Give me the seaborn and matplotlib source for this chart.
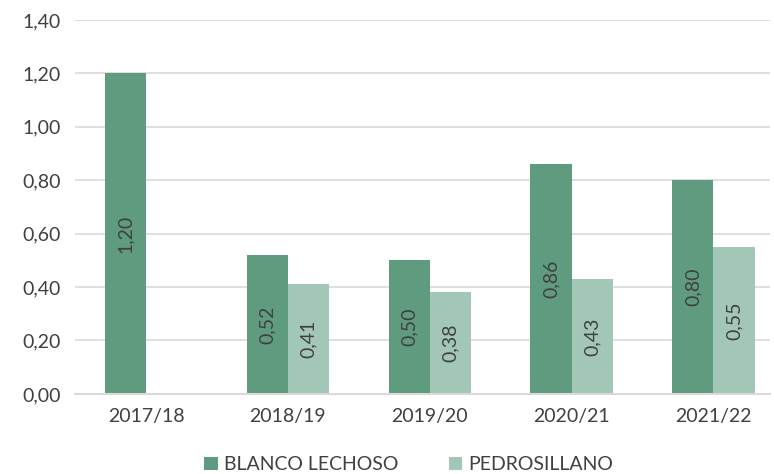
import numpy as np
import pandas as pd
import matplotlib.pyplot as plt
import seaborn as sns

campaigns = ["2017/18", "2018/19", "2019/20", "2020/21", "2021/22"]
blanco = [1.20, 0.52, 0.50, 0.86, 0.80]
pedro = [np.nan, 0.41, 0.38, 0.43, 0.55]
series = ["BLANCO LECHOSO", "PEDROSILLANO"]
colors = ["#5F9B7F", "#A3C7B6"]

df = pd.DataFrame({
    "campaign": campaigns * 2,
    "value": blanco + pedro,
    "variety": [series[0]] * 5 + [series[1]] * 5,
})

sns.set_style("white")
plt.rcParams["font.family"] = ["Lato", "DejaVu Sans"]
txt = "#404040"

fig = plt.figure(figsize=(7.74, 4.74), dpi=100)
ax = fig.add_axes([0.097, 0.169, 0.898, 0.789])

sns.barplot(data=df, x="campaign", y="value", hue="variety",
            palette=colors, width=0.58, ax=ax, saturation=1, linewidth=0)

for cont in ax.containers:
    labels = ["" if np.isnan(v) else f"{v:.2f}".replace(".", ",") for v in cont.datavalues]
    ax.bar_label(cont, labels=labels, label_type="center", rotation=90,
                 fontsize=14, color=txt)

ax.set_ylim(0, 1.4)
ax.set_yticks(np.arange(0, 1.41, 0.2))
ax.set_yticklabels([f"{t:.2f}".replace(".", ",") for t in np.arange(0, 1.41, 0.2)])
ax.set_xlim(-0.5, 4.4)
ax.yaxis.grid(True, color="#D9D9D9", linewidth=1.2)
ax.set_axisbelow(True)
for s in ["left", "right", "top"]:
    ax.spines[s].set_visible(False)
ax.spines["bottom"].set_color("#D9D9D9")
ax.spines["bottom"].set_linewidth(1.5)
ax.tick_params(axis="both", length=0, labelsize=14, colors=txt, pad=10)
ax.set_xlabel("")
ax.set_ylabel("")

ax.legend(loc="upper center", bbox_to_anchor=(0.48, -0.12), ncol=2, frameon=False,
          fontsize=14, labelcolor=txt, handlelength=0.7, handleheight=0.7,
          handletextpad=0.3, columnspacing=2.6)

fig.savefig("out.png", dpi=100)
